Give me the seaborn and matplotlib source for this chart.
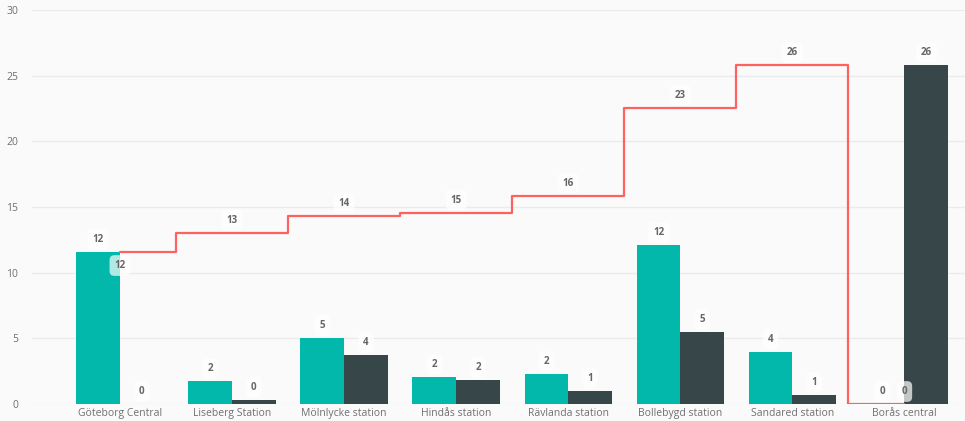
import numpy as np
import pandas as pd
import seaborn as sns
import matplotlib.pyplot as plt

stations = ['Göteborg Central', 'Liseberg Station', 'Mölnlycke station', 'Hindås station',
            'Rävlanda station', 'Bollebygd station', 'Sandared station', 'Borås central']
series = ['Påstigande', 'Avstigande']
on_vals = [11.6, 1.75, 5.03, 2.06, 2.28, 12.1, 3.96, 0.0]
off_vals = [0.0, 0.3, 3.73, 1.83, 0.99, 5.48, 0.69, 25.8]
onboard_vals = [11.6, 13.05, 14.35, 14.58, 15.87, 22.55, 25.8, 0.0]

teal = '#01B8AA'
dark = '#374649'
red = '#FD625E'
label_col = '#666666'

df = pd.DataFrame({
    'station': stations * 2,
    'serie': [series[0]] * len(stations) + [series[1]] * len(stations),
    'value': on_vals + off_vals,
})

sns.set_style('white')
plt.rcParams['font.family'] = ['Open Sans', 'DejaVu Sans']

fig = plt.figure(figsize=(9.65, 4.21), dpi=100, facecolor='#fafafa')
ax = fig.add_axes([32 / 965, 17 / 421, 1 - 32 / 965, 394 / 421])
ax.set_facecolor('#fafafa')

sns.barplot(data=df, x='station', y='value', hue='serie', order=stations, hue_order=series,
            palette=[teal, dark], width=0.78, saturation=1, linewidth=0, ax=ax, legend=False)

sns.lineplot(x=np.arange(len(stations)), y=onboard_vals, color=red, linewidth=1.6,
             drawstyle='steps-mid', ax=ax, zorder=3)

box = dict(boxstyle='round,pad=0.5', facecolor='white', edgecolor='none', alpha=0.7)

# bar labels
for p in ax.patches:
    h = p.get_height()
    if np.isnan(h):
        continue
    ax.annotate(f'{h:.0f}', (p.get_x() + p.get_width() / 2, h), xytext=(0, 9),
                textcoords='offset points', ha='center', va='center', fontsize=7,
                fontweight='bold', color=label_col, bbox=box, zorder=5)

# line labels
for i, v in enumerate(onboard_vals):
    if i == 0:
        off = -10
    else:
        off = 9
    ax.annotate(f'{v:.0f}', (i, v), xytext=(0, off), textcoords='offset points',
                ha='center', va='center', fontsize=7, fontweight='bold',
                color=label_col, bbox=box, zorder=6)

ax.set_ylim(0, 30)
ax.set_xlim(-0.785, 7.54)
ax.set_yticks(range(0, 31, 5))
ax.yaxis.grid(True, color='#ebebeb', linewidth=1)
ax.set_axisbelow(True)
ax.set_xlabel('')
ax.set_ylabel('')
ax.tick_params(axis='both', length=0, labelsize=7.5, labelcolor='#707070')
ax.tick_params(axis='y', pad=10)
ax.tick_params(axis='x', pad=3)
for s in ax.spines.values():
    s.set_visible(False)

fig.savefig('out.png', dpi=100, facecolor=fig.get_facecolor())
